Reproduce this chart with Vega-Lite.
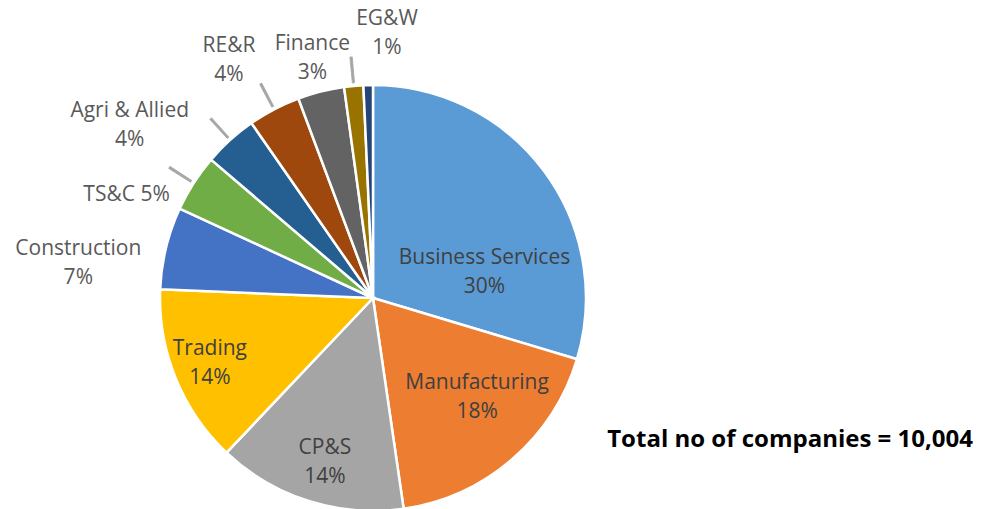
{
  "$schema": "https://vega.github.io/schema/vega-lite/v6.json",
  "width": 426,
  "height": 426,
  "autosize": {"type": "none"},
  "padding": {"left": 160, "top": 85, "right": 396, "bottom": 0},
  "background": "white",
  "title": {
    "text": "Total no of companies = 10,004",
    "orient": "bottom",
    "anchor": "end",
    "offset": 0,
    "dx": 382,
    "dy": -88,
    "font": "Open Sans",
    "fontSize": 24,
    "fontWeight": "bold",
    "color": "#000000"
  },
  "config": {
    "view": {"stroke": null},
    "text": {"font": "Open Sans", "fontSize": 21, "color": "#595959", "lineBreak": "\n", "lineHeight": 29}
  },
  "data": {
    "values": [
      {"idx": 1, "sector": "Business Services", "companies": 2965, "label": "Business Services\n30%"},
      {"idx": 2, "sector": "Manufacturing", "companies": 1807, "label": "Manufacturing\n18%"},
      {"idx": 3, "sector": "CP&S", "companies": 1437, "label": "CP&S\n14%"},
      {"idx": 4, "sector": "Trading", "companies": 1359, "label": "Trading\n14%"},
      {"idx": 5, "sector": "Construction", "companies": 625, "label": "Construction\n7%"},
      {"idx": 6, "sector": "TS&C", "companies": 436, "label": "TS&C 5%"},
      {"idx": 7, "sector": "Agri & Allied", "companies": 408, "label": "Agri & Allied\n4%"},
      {"idx": 8, "sector": "RE&R", "companies": 397, "label": "RE&R\n4%"},
      {"idx": 9, "sector": "Finance", "companies": 353, "label": "Finance\n3%"},
      {"idx": 10, "sector": "EG&W", "companies": 145, "label": "EG&W\n1%"},
      {"idx": 11, "sector": "Others", "companies": 72, "label": ""}
    ]
  },
  "transform": [
    {"joinaggregate": [{"op": "sum", "field": "companies", "as": "total"}]},
    {"stack": "companies", "groupby": [], "sort": [{"field": "idx", "order": "ascending"}], "as": ["a0", "a1"]},
    {"calculate": "datum.a0 / datum.total", "as": "f0"},
    {"calculate": "datum.a1 / datum.total", "as": "f1"},
    {"calculate": "(datum.f0 + datum.f1) / 2", "as": "fm"},
    {"calculate": "datum.fm - 0.0008", "as": "l0"},
    {"calculate": "datum.fm + 0.0008", "as": "l1"}
  ],
  "layer": [
    {
      "mark": {"type": "arc", "outerRadius": 213, "stroke": "white", "strokeWidth": 2.5},
      "encoding": {
        "theta": {"field": "f0", "type": "quantitative", "scale": {"domain": [0, 1], "range": [0, 6.283185307179586]}},
        "theta2": {"field": "f1"},
        "color": {
          "field": "sector",
          "type": "nominal",
          "legend": null,
          "scale": {
            "domain": ["Business Services", "Manufacturing", "CP&S", "Trading", "Construction", "TS&C", "Agri & Allied", "RE&R", "Finance", "EG&W", "Others"],
            "range": ["#5B9BD5", "#ED7D31", "#A5A5A5", "#FFC000", "#4472C4", "#70AD47", "#255E91", "#9E480E", "#636363", "#997300", "#264478"]
          }
        }
      }
    },
    {
      "transform": [{"filter": "indexof(['TS&C', 'Agri & Allied', 'RE&R', 'EG&W'], datum.sector) >= 0"}],
      "mark": {"type": "arc", "innerRadius": 216, "outerRadius": 242, "fill": "#A6A6A6", "stroke": "#A6A6A6", "strokeWidth": 0.8},
      "encoding": {
        "theta": {"field": "l0", "type": "quantitative", "scale": {"domain": [0, 1], "range": [0, 6.283185307179586]}},
        "theta2": {"field": "l1"}
      }
    },
    {
      "transform": [{"filter": "datum.sector === 'Business Services'"}],
      "mark": {"type": "text", "radius": 114, "dx": 20, "dy": 28, "color": "#404040"},
      "encoding": {"theta": {"field": "fm", "type": "quantitative", "scale": {"domain": [0, 1], "range": [0, 6.283185307179586]}}, "text": {"field": "label"}}
    },
    {
      "transform": [{"filter": "datum.sector === 'Manufacturing'"}],
      "mark": {"type": "text", "radius": 144, "dx": 10, "dy": -24, "color": "#404040"},
      "encoding": {"theta": {"field": "fm", "type": "quantitative", "scale": {"domain": [0, 1], "range": [0, 6.283185307179586]}}, "text": {"field": "label"}}
    },
    {
      "transform": [{"filter": "datum.sector === 'CP&S'"}],
      "mark": {"type": "text", "radius": 169, "dx": 3, "dy": -11, "color": "#404040"},
      "encoding": {"theta": {"field": "fm", "type": "quantitative", "scale": {"domain": [0, 1], "range": [0, 6.283185307179586]}}, "text": {"field": "label"}}
    },
    {
      "transform": [{"filter": "datum.sector === 'Trading'"}],
      "mark": {"type": "text", "radius": 175, "dx": -1, "dy": -15, "color": "#404040"},
      "encoding": {"theta": {"field": "fm", "type": "quantitative", "scale": {"domain": [0, 1], "range": [0, 6.283185307179586]}}, "text": {"field": "label"}}
    },
    {
      "transform": [{"filter": "datum.sector === 'Construction'"}],
      "mark": {"type": "text", "radius": 297, "dx": -6, "dy": 21},
      "encoding": {"theta": {"field": "fm", "type": "quantitative", "scale": {"domain": [0, 1], "range": [0, 6.283185307179586]}}, "text": {"field": "label"}}
    },
    {
      "transform": [{"filter": "datum.sector === 'TS&C'"}],
      "mark": {"type": "text", "radius": 269, "dx": -20, "dy": 42},
      "encoding": {"theta": {"field": "fm", "type": "quantitative", "scale": {"domain": [0, 1], "range": [0, 6.283185307179586]}}, "text": {"field": "label"}}
    },
    {
      "transform": [{"filter": "datum.sector === 'Agri & Allied'"}],
      "mark": {"type": "text", "radius": 300, "dx": -42, "dy": 35},
      "encoding": {"theta": {"field": "fm", "type": "quantitative", "scale": {"domain": [0, 1], "range": [0, 6.283185307179586]}}, "text": {"field": "label"}}
    },
    {
      "transform": [{"filter": "datum.sector === 'RE&R'"}],
      "mark": {"type": "text", "radius": 278, "dx": -15, "dy": -6},
      "encoding": {"theta": {"field": "fm", "type": "quantitative", "scale": {"domain": [0, 1], "range": [0, 6.283185307179586]}}, "text": {"field": "label"}}
    },
    {
      "transform": [{"filter": "datum.sector === 'Finance'"}],
      "mark": {"type": "text", "radius": 248, "dx": 0, "dy": -14},
      "encoding": {"theta": {"field": "fm", "type": "quantitative", "scale": {"domain": [0, 1], "range": [0, 6.283185307179586]}}, "text": {"field": "label"}}
    },
    {
      "transform": [{"filter": "datum.sector === 'EG&W'"}],
      "mark": {"type": "text", "radius": 265, "dx": 38, "dy": -15},
      "encoding": {"theta": {"field": "fm", "type": "quantitative", "scale": {"domain": [0, 1], "range": [0, 6.283185307179586]}}, "text": {"field": "label"}}
    }
  ]
}
